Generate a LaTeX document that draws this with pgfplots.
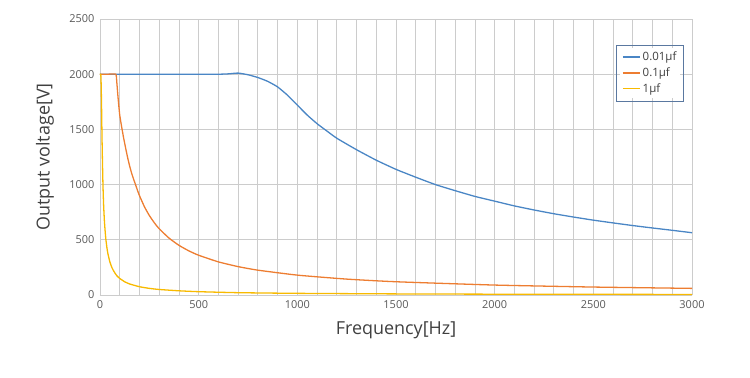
\documentclass[border=0pt]{standalone}
\usepackage{pgfplots}
\pgfplotsset{compat=1.18}
\usepackage{fontspec}
\setmainfont{Open Sans}
\definecolor{cblue}{HTML}{4A86C5}
\definecolor{corange}{HTML}{ED7D31}
\definecolor{cyellow}{HTML}{F8BA00}
\definecolor{cgrid}{HTML}{CCCCCC}
\definecolor{ctick}{HTML}{595959}
\definecolor{clab}{HTML}{404040}
\definecolor{clegend}{HTML}{5A78A0}
\begin{document}
\begin{tikzpicture}
\useasboundingbox (-100bp,-83bp) rectangle (650bp,295bp);
\begin{axis}[
  scale only axis, width=592bp, height=276bp,
  xmin=0, xmax=3000, ymin=0, ymax=2500,
  xtick={0,500,...,3000}, minor xtick={0,100,...,3000},
  ytick={0,500,...,2500},
  xmajorgrids, xminorgrids, ymajorgrids,
  grid style={cgrid, line width=0.8pt},
  minor grid style={cgrid, line width=0.8pt},
  axis line style={draw=none},
  major tick length=0pt, minor tick length=0pt,
  tick label style={font=\fontsize{11}{13}\selectfont, text=ctick},
  /pgf/number format/assume math mode=true,
  /pgf/number format/1000 sep={},
  xticklabel style={yshift=-2bp},
  yticklabel style={xshift=-2bp},
  xlabel={Frequency[Hz]}, ylabel={Output voltage[V]},
  label style={font=\fontsize{18}{21}\selectfont, text=clab},
  xlabel style={at={(axis description cs:0.5,-0.127)}, anchor=center},
  ylabel style={at={(axis description cs:-0.093,0.5)}, anchor=center},
  legend style={at={(axis description cs:0.9295,0.8045)}, anchor=center,
    draw=none, fill=white, font=\fontsize{11.5}{13}\selectfont,
    inner xsep=2pt, inner ysep=2pt, row sep=1.5pt},
  legend cell align=left,
  every axis plot/.append style={line width=1.3pt, smooth, tension=0.3},
]
\draw[cgrid, line width=0.8pt] (axis cs:0,0) -- (axis cs:3000,0);
\coordinate (LL) at (rel axis cs:0.873,0.703);
\coordinate (UR) at (rel axis cs:0.986,0.906);
\addplot[draw=cblue, no markers, forget plot] coordinates {
(0,2000) (200,2000) (400,2000) (600,2000) (650,2003) (700,2010) (750,1995)
(800,1970) (850,1935) (900,1885) (950,1810) (1000,1720) (1050,1630)
(1100,1552) (1150,1485) (1200,1420) (1300,1316) (1400,1221) (1500,1138)
(1600,1067) (1700,1000) (1800,945) (1900,893) (2000,850) (2100,807)
(2200,770) (2300,736) (2400,706) (2500,678) (2600,653) (2700,629)
(2800,607) (2900,586) (3000,564)};
\addplot[draw=corange, no markers, forget plot] coordinates {
(0,2000) (40,2000) (80,2000) (85,1930) (90,1820) (95,1720) (100,1630)
(110,1520) (120,1420) (130,1330) (140,1245) (150,1170) (160,1105)
(170,1050) (180,1000) (190,948) (200,900) (225,800) (250,720) (275,655)
(300,600) (350,515) (400,450) (450,400) (500,360) (600,300) (700,257)
(800,225) (1000,180) (1250,144) (1500,120) (2000,90) (2500,72) (3000,60)};
\addplot[draw=cyellow, no markers, forget plot] coordinates {
(0,2000) (4,2000) (6,1900) (8,1700) (10,1450) (12,1250) (15,1000)
(18,830) (22,680) (26,580) (30,500) (35,430) (40,375) (50,300) (60,250)
(70,215) (85,175) (100,150) (125,120) (150,100) (200,75) (250,60)
(300,50) (400,38) (500,30) (700,21) (1000,15) (1500,10) (2000,7.5) (3000,5)};
\addlegendimage{draw=cblue, line width=1.6pt}
\addlegendentry{\textcolor{clab}{0.01μf}}
\addlegendimage{draw=corange, line width=1.6pt}
\addlegendentry{\textcolor{clab}{0.1μf}}
\addlegendimage{draw=cyellow, line width=1.6pt}
\addlegendentry{\textcolor{clab}{1μf}}
\end{axis}
\draw[clegend, line width=0.8pt] (LL) rectangle (UR);
\end{tikzpicture}
\end{document}
